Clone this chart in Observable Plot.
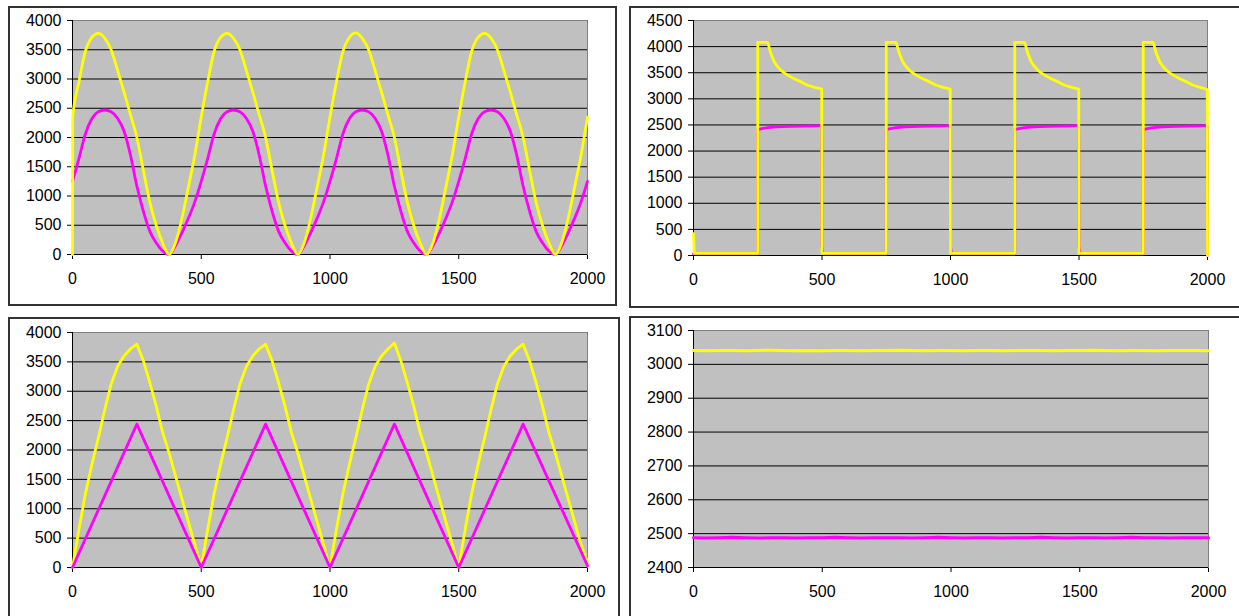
<!DOCTYPE html>
<html><head><meta charset="utf-8">
<script src="https://cdn.jsdelivr.net/npm/d3@7"></script>
<script src="https://cdn.jsdelivr.net/npm/@observablehq/plot@0.6"></script>
<style>
html,body{margin:0;padding:0;background:#fff;}
body{width:1239px;height:616px;overflow:hidden;position:relative;}
.box{position:absolute;border:2px solid #333;box-sizing:border-box;}
.panel{position:absolute;}
svg text{font-family:"Liberation Sans",Arial,sans-serif;}
</style></head><body>
<div class="box" style="left:8px;top:6px;width:609px;height:300px"></div>
<div class="box" style="left:629px;top:6px;width:620px;height:302px"></div>
<div class="box" style="left:8px;top:317px;width:612px;height:310px"></div>
<div class="box" style="left:629px;top:316px;width:620px;height:310px"></div>
<div id="p1" class="panel" style="left:10px;top:8px;width:600px;height:294px"></div>
<div id="p2" class="panel" style="left:631px;top:8px;width:600px;height:296px"></div>
<div id="p3" class="panel" style="left:10px;top:319px;width:600px;height:295px"></div>
<div id="p4" class="panel" style="left:631px;top:318px;width:600px;height:296px"></div>
<script>
// ---------- shared tick labels ----------
const xTicks = [0, 500, 1000, 1500, 2000];
const yTicks1 = [0, 500, 1000, 1500, 2000, 2500, 3000, 3500, 4000];
const yTicks2 = [0, 500, 1000, 1500, 2000, 2500, 3000, 3500, 4000, 4500];
const yTicks3 = [0, 500, 1000, 1500, 2000, 2500, 3000, 3500, 4000];
const yTicks4 = [2400, 2500, 2600, 2700, 2800, 2900, 3000, 3100];

// ---------- panel 1 (sine-like) ----------
const xs1 = [0,1,25,50,75,100,125,150,175,200,225,250,275,300,325,350,375,400,425,450,475,500,525,550,575,600,625,650,675,700,725,750,775,800,825,850,875,900,925,950,975,1000,1025,1050,1075,1100,1125,1150,1175,1200,1225,1250,1275,1300,1325,1350,1375,1400,1425,1450,1475,1500,1525,1550,1575,1600,1625,1650,1675,1700,1725,1750,1775,1800,1825,1850,1875,1900,1925,1950,1975,2000];
const yellow1 = [0, 2350,
  2950, 3470, 3710, 3780, 3700, 3500, 3150, 2780, 2390, 2000, 1440, 900, 500, 200, 0, 200, 620, 1150, 1700,
  2350, 2950, 3470, 3710, 3780, 3700, 3500, 3150, 2780, 2390, 2000, 1440, 900, 500, 200, 0, 200, 620, 1150, 1700,
  2350, 2950, 3470, 3710, 3790, 3700, 3500, 3150, 2780, 2390, 2000, 1440, 900, 500, 200, 0, 200, 620, 1150, 1700,
  2350, 2950, 3470, 3710, 3780, 3700, 3500, 3150, 2780, 2390, 2000, 1440, 900, 500, 200, 0, 200, 620, 1150, 1700,
  2350];
const magenta1 = [1250, 1265,
  1640, 2060, 2320, 2440, 2470, 2440, 2330, 2110, 1700, 1170, 740, 400, 200, 60, 0, 150, 370, 620, 900,
  1250, 1640, 2060, 2320, 2440, 2470, 2440, 2330, 2110, 1700, 1170, 740, 400, 200, 60, 0, 150, 370, 620, 900,
  1250, 1640, 2060, 2320, 2440, 2470, 2440, 2330, 2110, 1700, 1170, 740, 400, 200, 60, 0, 150, 370, 620, 900,
  1250, 1640, 2060, 2320, 2440, 2470, 2440, 2330, 2110, 1700, 1170, 740, 400, 200, 60, 0, 150, 370, 620, 900,
  1250];

// ---------- panel 2 (square wave) ----------
const yellowX2 = [0, 3, 250, 250, 288, 292, 300, 314, 325, 340, 355, 375, 392, 425, 444, 475, 499, 500,
  750, 750, 788, 792, 800, 814, 825, 840, 855, 875, 892, 925, 944, 975, 999, 1000,
  1250, 1250, 1288, 1292, 1300, 1314, 1325, 1340, 1355, 1375, 1392, 1425, 1444, 1475, 1499, 1500,
  1750, 1750, 1788, 1792, 1800, 1814, 1825, 1840, 1855, 1875, 1892, 1925, 1944, 1975, 1999, 2000];
const yellowY2 = [420, 40, 40, 4080, 4080, 4030, 3880, 3710, 3630, 3545, 3490, 3430, 3385, 3310, 3260, 3215, 3185, 40,
  40, 4080, 4080, 4030, 3880, 3710, 3630, 3545, 3490, 3430, 3385, 3310, 3260, 3215, 3185, 40,
  40, 4080, 4080, 4030, 3880, 3710, 3630, 3545, 3490, 3430, 3385, 3310, 3260, 3215, 3185, 40,
  40, 4080, 4080, 4030, 3880, 3710, 3630, 3545, 3490, 3430, 3385, 3310, 3260, 3215, 3175, 0];
const magentaX2 = [0, 250, 250, 262, 288, 325, 375, 425, 475, 499, 500, 503, 506,
  750, 750, 762, 788, 825, 875, 925, 975, 999, 1000, 1003, 1006,
  1250, 1250, 1262, 1288, 1325, 1375, 1425, 1475, 1499, 1500, 1503, 1506,
  1750, 1750, 1762, 1788, 1825, 1875, 1925, 1975, 1999, 2000];
const magentaY2 = [30, 30, 2410, 2425, 2450, 2465, 2472, 2478, 2482, 2485, 180, 60, 30,
  30, 2410, 2425, 2450, 2465, 2472, 2478, 2482, 2485, 180, 60, 30,
  30, 2410, 2425, 2450, 2465, 2472, 2478, 2482, 2485, 180, 60, 30,
  30, 2410, 2425, 2450, 2465, 2472, 2478, 2482, 2485, 0];

// ---------- panel 3 (triangle) ----------
const xs3 = [0,25,50,75,100,125,150,175,200,225,250,275,300,325,350,375,400,425,450,475,500,525,550,575,600,625,650,675,700,725,750,775,800,825,850,875,900,925,950,975,1000,1025,1050,1075,1100,1125,1150,1175,1200,1225,1250,1275,1300,1325,1350,1375,1400,1425,1450,1475,1500,1525,1550,1575,1600,1625,1650,1675,1700,1725,1750,1775,1800,1825,1850,1875,1900,1925,1950,1975,2000];
const yellow3 = [
  0, 650, 1250, 1750, 2200, 2680, 3120, 3420, 3600, 3720, 3800, 3520, 3150, 2750, 2300, 1950, 1560, 1170, 780, 390,
  0, 650, 1250, 1750, 2200, 2680, 3120, 3420, 3600, 3720, 3800, 3520, 3150, 2750, 2300, 1950, 1560, 1170, 780, 390,
  0, 650, 1250, 1750, 2200, 2680, 3120, 3420, 3600, 3720, 3820, 3520, 3150, 2750, 2300, 1950, 1560, 1170, 780, 390,
  0, 650, 1250, 1750, 2200, 2680, 3120, 3420, 3600, 3720, 3800, 3520, 3150, 2750, 2300, 1950, 1560, 1170, 780, 390,
  100];
const magentaX3 = [0, 250, 500, 750, 1000, 1250, 1500, 1750, 2000];
const magentaY3 = [0, 2440, 0, 2440, 0, 2440, 0, 2440, 30];

// ---------- panel 4 (constant) ----------
const xs4 = [0,50,100,150,200,250,300,350,400,450,500,550,600,650,700,750,800,850,900,950,1000,1050,1100,1150,1200,1250,1300,1350,1400,1450,1500,1550,1600,1650,1700,1750,1800,1850,1900,1950,2000];
const yellow4 = [3041,3040,3041,3041,3040,3041,3042,3041,3040,3041,
  3040,3041,3041,3040,3041,3041,3042,3041,3040,3041,
  3041,3040,3041,3041,3040,3041,3041,3041,3040,3041,
  3041,3042,3041,3040,3041,3041,3040,3041,3041,3041,
  3040];
const magenta4 = [2488,2487,2488,2489,2488,2487,2488,2488,2487,2488,
  2488,2489,2488,2487,2488,2488,2488,2487,2488,2489,
  2488,2487,2488,2488,2487,2488,2488,2489,2488,2487,
  2488,2488,2487,2488,2489,2488,2488,2487,2488,2488,
  2488];

const YELLOW = "#ffff00", MAGENTA = "#ff00ff";
const pts = (xs, ys) => xs.map((x, i) => ({x, y: ys[i]}));

function panel(id, cfg) {
  const yTop = cfg.yDomain[1];
  const grid = cfg.yTicks.filter(t => t !== yTop);
  const chart = Plot.plot({
    width: cfg.width, height: cfg.height,
    marginLeft: cfg.ml, marginRight: cfg.mr, marginTop: cfg.mt, marginBottom: cfg.mb,
    style: {fontSize: "16px", fontFamily: "'Liberation Sans', Arial, sans-serif", color: "#000", background: "transparent", overflow: "visible"},
    x: {domain: [0, 2000], ticks: xTicks, tickFormat: "d", tickSize: 5, tickPadding: 13, label: null},
    y: {domain: cfg.yDomain, ticks: cfg.yTicks, tickFormat: "d", tickSize: 5, tickPadding: 6, label: null},
    marks: [
      Plot.frame({fill: "#c0c0c0", stroke: "#808080"}),
      Plot.ruleY(grid, {stroke: "#000", strokeWidth: 1}),
      Plot.ruleX([0], {stroke: "#000", strokeWidth: 1}),
      ...cfg.series.map(s => Plot.line(s.data, {x: "x", y: "y", stroke: s.color, strokeWidth: s.width || 2.8, curve: s.curve || "linear"}))
    ]
  });
  document.getElementById(id).appendChild(chart);
}

panel("p1", {width: 600, height: 294, ml: 62, mr: 23, mt: 12, mb: 48,
  yDomain: [0, 4000], yTicks: yTicks1,
  series: [
    {data: pts(xs1, magenta1), color: MAGENTA, curve: "monotone-x"},
    {data: pts(xs1, yellow1), color: YELLOW, curve: "monotone-x"}
  ]});

panel("p2", {width: 600, height: 296, ml: 62, mr: 24, mt: 12, mb: 49,
  yDomain: [0, 4500], yTicks: yTicks2,
  series: [
    {data: pts(magentaX2, magentaY2), color: MAGENTA},
    {data: pts(yellowX2, yellowY2), color: YELLOW}
  ]});

panel("p3", {width: 600, height: 295, ml: 62, mr: 23, mt: 13, mb: 47,
  yDomain: [0, 4000], yTicks: yTicks3,
  series: [
    {data: pts(xs3, yellow3), color: YELLOW},
    {data: pts(magentaX3, magentaY3), color: MAGENTA}
  ]});

panel("p4", {width: 600, height: 296, ml: 62, mr: 23, mt: 12, mb: 47,
  yDomain: [2400, 3100], yTicks: yTicks4,
  series: [
    {data: pts(xs4, yellow4), color: YELLOW, width: 3},
    {data: pts(xs4, magenta4), color: MAGENTA, width: 3}
  ]});
</script>
</body></html>
